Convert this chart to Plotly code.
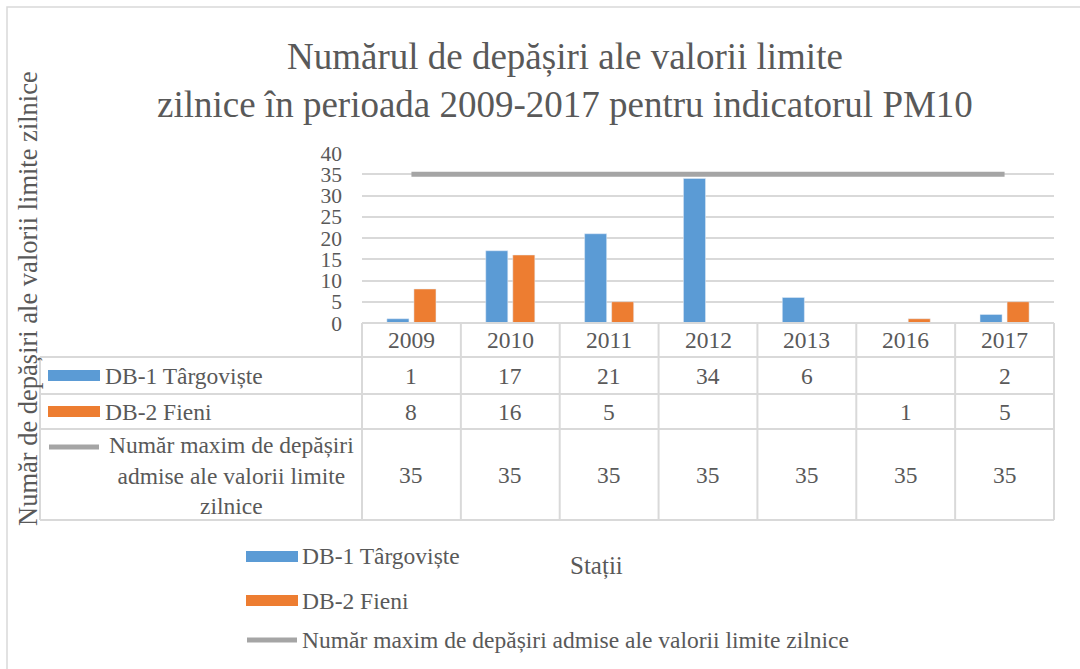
import plotly.graph_objects as go

# ---------------- data ----------------
years = ["2009", "2010", "2011", "2012", "2013", "2016", "2017"]
targoviste = [1, 17, 21, 34, 6, None, 2]
fieni = [8, 16, 5, None, None, 1, 5]
limit = [35, 35, 35, 35, 35, 35, 35]
y_ticks = [0, 5, 10, 15, 20, 25, 30, 35, 40]

name_1 = "DB-1 Târgoviște"
name_2 = "DB-2 Fieni"
name_3 = "Număr maxim de depășiri admise ale valorii limite zilnice"
name_3_table = "Număr maxim de depășiri<br>admise ale valorii limite<br>zilnice"
title_text = "Numărul de depășiri ale valorii limite<br>zilnice în perioada 2009-2017 pentru indicatorul PM10"
y_title = "Număr de depășiri ale valorii limite zilnice"
x_title = "Stații"

# ---------------- style ----------------
W, H = 1080, 669
FONT = "Liberation Serif"
TXT = "#595959"
GRID = "#D9D9D9"
BLUE = "#5B9BD5"
ORANGE = "#ED7D31"
GRAY = "#A5A5A5"

def X(px):
    return px / W

def Y(py):
    return 1 - py / H

plot_l, plot_r = 362, 1054
plot_t, plot_b = 153, 323
table_left = 40
row_lines = [323, 357, 394, 429, 520]
row_centers = [340, 376, 412, 475]

idx = list(range(len(years)))

fig = go.Figure()
fig.add_trace(go.Bar(x=idx, y=targoviste, name=name_1, marker_color=BLUE))
fig.add_trace(go.Bar(x=idx, y=fieni, name=name_2, marker_color=ORANGE))
fig.add_trace(go.Scatter(x=idx, y=limit, name=name_3, mode="lines",
                         line=dict(color=GRAY, width=5)))

shapes = []
shapes.append(dict(type="rect", xref="paper", yref="paper",
                   x0=X(7), x1=X(1095), y0=Y(7), y1=Y(690),
                   line=dict(color=GRID, width=1.5)))
for i, ry in enumerate(row_lines):
    x0 = plot_l if i == 0 else table_left
    shapes.append(dict(type="line", xref="paper", yref="paper",
                       x0=X(x0), x1=X(plot_r), y0=Y(ry), y1=Y(ry),
                       line=dict(color=GRID, width=2)))
shapes.append(dict(type="line", xref="paper", yref="paper",
                   x0=X(table_left), x1=X(table_left), y0=Y(row_lines[1]), y1=Y(row_lines[-1]),
                   line=dict(color=GRID, width=2)))
n = len(years)
col_w = (plot_r - plot_l) / n
for k in range(n + 1):
    cx = plot_l + k * col_w
    shapes.append(dict(type="line", xref="paper", yref="paper",
                       x0=X(cx), x1=X(cx), y0=Y(row_lines[0]), y1=Y(row_lines[-1]),
                       line=dict(color=GRID, width=2)))

# legend keys in table
shapes.append(dict(type="rect", xref="paper", yref="paper", x0=X(48), x1=X(100),
                   y0=Y(381), y1=Y(370), fillcolor=BLUE, line=dict(width=0)))
shapes.append(dict(type="rect", xref="paper", yref="paper", x0=X(48), x1=X(100),
                   y0=Y(417), y1=Y(406), fillcolor=ORANGE, line=dict(width=0)))
shapes.append(dict(type="line", xref="paper", yref="paper", x0=X(49), x1=X(99),
                   y0=Y(447), y1=Y(447), line=dict(color=GRAY, width=5)))
# bottom legend keys
shapes.append(dict(type="rect", xref="paper", yref="paper", x0=X(246), x1=X(298),
                   y0=Y(562), y1=Y(551), fillcolor=BLUE, line=dict(width=0)))
shapes.append(dict(type="rect", xref="paper", yref="paper", x0=X(246), x1=X(298),
                   y0=Y(606), y1=Y(595), fillcolor=ORANGE, line=dict(width=0)))
shapes.append(dict(type="line", xref="paper", yref="paper", x0=X(247), x1=X(297),
                   y0=Y(640), y1=Y(640), line=dict(color=GRAY, width=5)))

ann = []
f_tab = dict(family=FONT, size=23.5, color=TXT)
for i, yr in zip(idx, years):
    ann.append(dict(x=i, xref="x", y=Y(row_centers[0]), yref="paper", text=yr,
                    showarrow=False, font=f_tab, xanchor="center", yanchor="middle"))
    for vals, rc in ((targoviste, row_centers[1]), (fieni, row_centers[2]), (limit, row_centers[3])):
        if vals[i] is not None:
            ann.append(dict(x=i, xref="x", y=Y(rc), yref="paper", text=str(vals[i]),
                            showarrow=False, font=f_tab, xanchor="center", yanchor="middle"))
ann.append(dict(x=X(103), y=Y(row_centers[1]), xref="paper", yref="paper", text=name_1,
                showarrow=False, font=f_tab, xanchor="left", yanchor="middle"))
ann.append(dict(x=X(103), y=Y(row_centers[2]), xref="paper", yref="paper", text=name_2,
                showarrow=False, font=f_tab, xanchor="left", yanchor="middle"))
ann.append(dict(x=X(231), y=Y(row_centers[3]), xref="paper", yref="paper", text=name_3_table,
                showarrow=False, font=f_tab, xanchor="center", yanchor="middle", align="center"))
ann.append(dict(x=X(300), y=Y(556), xref="paper", yref="paper", text=name_1,
                showarrow=False, font=f_tab, xanchor="left", yanchor="middle"))
ann.append(dict(x=X(300), y=Y(601), xref="paper", yref="paper", text=name_2,
                showarrow=False, font=f_tab, xanchor="left", yanchor="middle"))
ann.append(dict(x=X(300), y=Y(640), xref="paper", yref="paper", text=name_3,
                showarrow=False, font=f_tab, xanchor="left", yanchor="middle"))
ann.append(dict(x=X(596), y=Y(566), xref="paper", yref="paper", text=x_title,
                showarrow=False, font=dict(family=FONT, size=25, color=TXT),
                xanchor="center", yanchor="middle"))
ann.append(dict(x=X(28), y=Y(299), xref="paper", yref="paper", text=y_title, textangle=-90,
                showarrow=False, font=dict(family=FONT, size=26.5, color=TXT),
                xanchor="center", yanchor="middle"))
ann.append(dict(x=X(565), y=Y(80), xref="paper", yref="paper", text=title_text,
                showarrow=False, font=dict(family=FONT, size=37, color=TXT),
                xanchor="center", yanchor="middle", align="center"))

fig.update_layout(
    width=W, height=H,
    margin=dict(l=0, r=0, t=0, b=0, pad=0, autoexpand=False),
    paper_bgcolor="white", plot_bgcolor="white",
    showlegend=False,
    barmode="group", bargap=0.453, bargroupgap=0.185,
    xaxis=dict(domain=[X(plot_l), X(plot_r)], range=[-0.5, n - 0.5], tickvals=idx,
               ticktext=years, showticklabels=False, automargin=False,
               showgrid=False, zeroline=False, showline=False, ticks=""),
    yaxis=dict(domain=[Y(plot_b), Y(plot_t)], range=[0, 40], tickvals=y_ticks,
               automargin=False,
               showgrid=True, gridcolor=GRID, gridwidth=1.5, zeroline=False, showline=False,
               tickfont=dict(family=FONT, size=21.5, color=TXT), ticklabelstandoff=19),
    shapes=shapes,
    annotations=ann,
)

fig.write_html("out.html", config={"displayModeBar": False},
               post_script="document.body.style.margin='0';document.body.style.overflow='hidden';")
